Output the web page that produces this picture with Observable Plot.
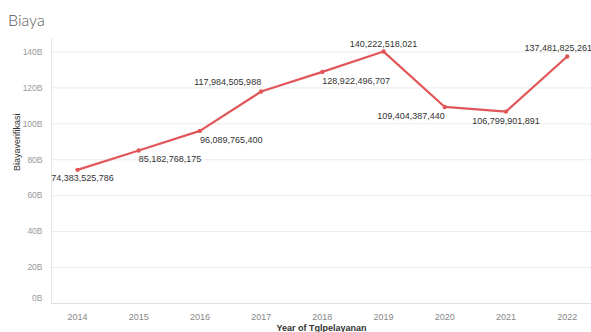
<!DOCTYPE html>
<html>
<head>
<meta charset="utf-8">
<script src="https://cdn.jsdelivr.net/npm/d3@7"></script>
<script src="https://cdn.jsdelivr.net/npm/@observablehq/plot@0.6"></script>
<style>
  html, body { margin: 0; padding: 0; background: #fff; }
  #wrap { width: 591px; height: 332px; overflow: hidden; }
  #title { height: 34px; line-height: 34px; padding-left: 8px; font-family: Lato, "Open Sans", sans-serif; font-weight: 300; font-size: 16px; color: #555; box-sizing: border-box; padding-top: 3px; }
  svg { display: block; }
</style>
</head>
<body>
<div id="wrap">
  <div id="title">Biaya</div>
  <div id="chart"></div>
</div>
<script>
const title = "Biaya";
const xTitle = "Year of Tglpelayanan";
const yTitle = "Biayaverifikasi";
const years = [2014, 2015, 2016, 2017, 2018, 2019, 2020, 2021, 2022];
const biaya = [74383525786, 85182768175, 96089765400, 117984505988, 128922496707, 140222518021, 109404387440, 106799901891, 137481825261];
const yTicks = [0, 20e9, 40e9, 60e9, 80e9, 100e9, 120e9, 140e9];

const data = years.map((y, i) => ({year: y, value: biaya[i]}));
const fmt = d3.format(",");
const red = "#e15759";
const font = "'Liberation Sans', Arial, sans-serif";

function labels(ys, opts) {
  return Plot.text(data.filter(d => ys.includes(d.year)), {
    x: "year", y: "value", text: d => fmt(d.value),
    fontSize: 9, fill: "#333", fontFamily: font, ...opts
  });
}

const yAxisOpts = {tickSize: 0, tickPadding: 9, fontSize: 8.5, fill: "#999", label: null, tickFormat: d => (d / 1e9) + "B"};

const chart = Plot.plot({
  width: 591,
  height: 298,
  marginLeft: 51,
  marginRight: 0,
  marginTop: 4,
  marginBottom: 29,
  style: {fontFamily: font, background: "#fff", overflow: "visible"},
  x: {type: "linear", domain: [2013.575, 2022.397], ticks: years, tickFormat: d => String(d)},
  y: {domain: [0, 147.5e9], ticks: yTicks},
  marks: [
    Plot.gridY(yTicks, {stroke: "#ebebeb", strokeOpacity: 1, strokeWidth: 1}),
    Plot.ruleX([2013.575], {stroke: "#e6e6e6"}),
    Plot.ruleY([0], {stroke: "#e0e0e0"}),
    Plot.axisY(yTicks.filter(d => d > 0), yAxisOpts),
    Plot.axisY([0], {...yAxisOpts, dy: -5}),
    Plot.axisX(years, {tickSize: 0, tickPadding: 10, fontSize: 9, fill: "#888", label: null, tickFormat: d => String(d)}),
    Plot.line(data, {x: "year", y: "value", stroke: red, strokeWidth: 2.2}),
    Plot.dot(data, {x: "year", y: "value", fill: red, r: 2.2}),
    labels([2015, 2016, 2018], {textAnchor: "start", dy: 9}),
    labels([2014], {textAnchor: "middle", dx: 5, dy: 8}),
    labels([2021], {textAnchor: "middle", dy: 9}),
    labels([2020], {textAnchor: "end", dy: 9}),
    labels([2017], {textAnchor: "end", dy: -9}),
    labels([2019], {textAnchor: "middle", dy: -7}),
    labels([2022], {textAnchor: "middle", dx: -9, dy: -8}),
    Plot.text([yTitle], {frameAnchor: "left", rotate: -90, dx: -34, fontSize: 9, fill: "#333", fontFamily: font}),
    Plot.text([xTitle], {frameAnchor: "bottom", dy: 27, fontSize: 9, fontWeight: "bold", fill: "#333", fontFamily: font})
  ]
});
document.getElementById("chart").appendChild(chart);
</script>
</body>
</html>
